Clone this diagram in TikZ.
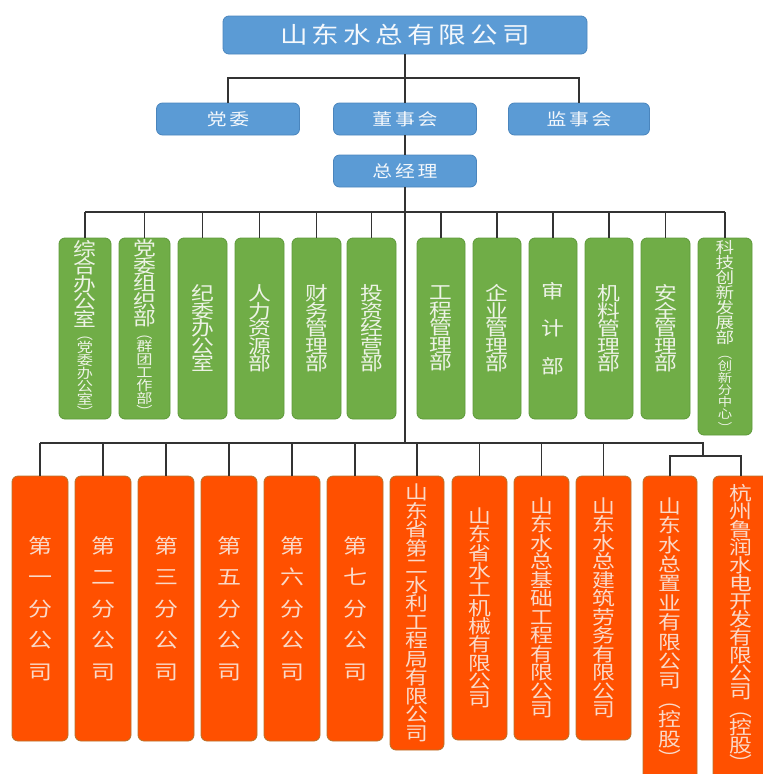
\documentclass[tikz,border=0pt]{standalone}
\usepackage{fontspec}
\setmainfont[FakeStretch=1.2]{Noto Sans CJK SC}
\usetikzlibrary{
  positioning
}
\definecolor{bluefill}{HTML}{5B9BD5}
\definecolor{blueline}{HTML}{4A85BD}
\definecolor{bluetext}{HTML}{F4F8FC}
\definecolor{greenfill}{HTML}{70AD47}
\definecolor{greenline}{HTML}{5E9A3A}
\definecolor{greentext}{HTML}{EDF3E6}
\definecolor{orangefill}{HTML}{FF5000}
\definecolor{orangeline}{HTML}{B5742E}
\definecolor{orangetext}{HTML}{FAD9C8}
\definecolor{linecol}{HTML}{333333}
\newcommand\sm[1]{{\fontsize{13.5}{13.5}\selectfont#1}}
\newcommand\xs[1]{{\fontsize{12}{12}\selectfont#1}}
\setlength{\lineskiplimit}{-100pt}

\begin{document}
\begin{tikzpicture}[x=1pt, y=-1pt,
    box/.style = {rectangle, rounded corners=6pt, inner sep=0pt, outer sep=0pt, line width=0.8pt},
    head/.style = {box, fill=bluefill, draw=blueline, text=bluetext,
      minimum width=364pt, minimum height=38pt,
      font=\fontsize{23}{26}\selectfont\addfontfeature{LetterSpace=18}},
    bbox/.style = {box, fill=bluefill, draw=blueline, text=bluetext,
      minimum width=143pt, minimum height=32pt,
      font=\fontsize{16.5}{18}\selectfont\addfontfeature{LetterSpace=17}},
    gbox/.style = {box, fill=greenfill, draw=greenline, text=greentext,
      minimum width=49pt, minimum height=181pt, align=center,
      font=\fontsize{19}{17.5}\selectfont},
    obox/.style = {box, fill=orangefill, draw=orangeline, text=orangetext,
      minimum width=55pt, minimum height=264pt, align=center,
      font=\fontsize{19}{18.5}\selectfont},
    link/.style = {draw=linecol, line width=1.2pt}]

    \useasboundingbox (0,0) rectangle (763,774);
    \clip (0,0) rectangle (763,774);

    % head office and boards
    \node[head] (top) at (405,35) {山东水总有限公司};
    \node[bbox, below = 49pt of top] (dsh) {董事会};
    \node[bbox, left = 34pt of dsh] (dw) {党委};
    \node[bbox, right = 32pt of dsh, minimum width=141pt] (jsh) {监事会};
    \node[bbox, below = 20pt of dsh] (zjl) {总经理};

    % departments
    \node[gbox, minimum width=52pt, anchor=north west] (g1) at (59,238)
      {综\\合\\办\\公\\室\\[-4.5pt]\sm{︵}\\[-4.5pt]\sm{党}\\[-4.5pt]\sm{委}\\[-4.5pt]\sm{办}\\[-4.5pt]\sm{公}\\[-4.5pt]\sm{室}\\[-4.5pt]\sm{︶}};
    \node[gbox, minimum width=51pt, right = 8pt of g1.north east, anchor=north west] (g2)
      {党\\委\\组\\织\\部\\[-4.5pt]\sm{︵}\\[-4.5pt]\sm{群}\\[-4.5pt]\sm{团}\\[-4.5pt]\sm{工}\\[-4.5pt]\sm{作}\\[-4.5pt]\sm{部}\\[-4.5pt]\sm{︶}};
    \node[gbox, right = 8pt of g2.north east, anchor=north west] (g3) {纪\\委\\办\\公\\室};
    \node[gbox, right = 8pt of g3.north east, anchor=north west] (g4) {人\\力\\资\\源\\部};
    \node[gbox, right = 8pt of g4.north east, anchor=north west] (g5) {财\\务\\管\\理\\部};
    \node[gbox, right = 6pt of g5.north east, anchor=north west] (g6) {投\\资\\经\\营\\部};
    \node[gbox, minimum width=48pt, right = 21pt of g6.north east, anchor=north west] (g7) {工\\程\\管\\理\\部};
    \node[gbox, minimum width=48pt, right = 8pt of g7.north east, anchor=north west] (g8) {企\\业\\管\\理\\部};
    \node[gbox, minimum width=48pt, right = 8pt of g8.north east, anchor=north west] (g9) {审\\[20pt]计\\[20pt]部};
    \node[gbox, minimum width=48pt, right = 8pt of g9.north east, anchor=north west] (g10) {机\\料\\管\\理\\部};
    \node[gbox, right = 8pt of g10.north east, anchor=north west] (g11) {安\\全\\管\\理\\部};
    \node[gbox, minimum width=54pt, minimum height=197pt, font=\fontsize{15.5}{15}\selectfont,
      right = 8pt of g11.north east, anchor=north west] (g12)
      {科\\技\\创\\新\\发\\展\\部\\[0.5pt]\xs{︵}\\[-3pt]\xs{创}\\[-3pt]\xs{新}\\[-3pt]\xs{分}\\[-3pt]\xs{中}\\[-3pt]\xs{心}\\[-1pt]\xs{︶}};

    % branches and subsidiaries
    \node[obox, minimum width=56pt, minimum height=265pt, font=\fontsize{20}{31.5}\selectfont,
      anchor=north west] (o1) at (12,476) {第\\一\\分\\公\\司};
    \node[obox, minimum width=56pt, minimum height=265pt, font=\fontsize{20}{31.5}\selectfont,
      right = 7pt of o1.north east, anchor=north west] (o2) {第\\二\\分\\公\\司};
    \node[obox, minimum width=56pt, minimum height=265pt, font=\fontsize{20}{31.5}\selectfont,
      right = 7pt of o2.north east, anchor=north west] (o3) {第\\三\\分\\公\\司};
    \node[obox, minimum width=56pt, minimum height=265pt, font=\fontsize{20}{31.5}\selectfont,
      right = 7pt of o3.north east, anchor=north west] (o4) {第\\五\\分\\公\\司};
    \node[obox, minimum width=56pt, minimum height=265pt, font=\fontsize{20}{31.5}\selectfont,
      right = 7pt of o4.north east, anchor=north west] (o5) {第\\六\\分\\公\\司};
    \node[obox, minimum width=56pt, minimum height=265pt, font=\fontsize{20}{31.5}\selectfont,
      right = 7pt of o5.north east, anchor=north west] (o6) {第\\七\\分\\公\\司};
    \node[obox, minimum width=54pt, minimum height=274pt,
      right = 7pt of o6.north east, anchor=north west] (o7)
      {山\\东\\省\\第\\二\\水\\利\\工\\程\\局\\有\\限\\公\\司};
    \node[obox, font=\fontsize{19}{18.3}\selectfont,
      right = 8pt of o7.north east, anchor=north west] (o8)
      {山\\东\\省\\水\\工\\机\\械\\有\\限\\公\\司};
    \node[obox, right = 7pt of o8.north east, anchor=north west] (o9)
      {山\\东\\水\\总\\基\\础\\工\\程\\有\\限\\公\\司};
    \node[obox, right = 7pt of o9.north east, anchor=north west] (o10)
      {山\\东\\水\\总\\建\\筑\\劳\\务\\有\\限\\公\\司};
    \node[obox, minimum width=54pt, minimum height=311pt, font=\fontsize{19}{19.4}\selectfont,
      right = 12pt of o10.north east, anchor=north west] (o11)
      {山\\东\\水\\总\\置\\业\\有\\限\\公\\司\\︵\\控\\股\\︶};
    \node[obox, minimum width=56pt, minimum height=303pt, font=\fontsize{19}{18}\selectfont,
      right = 16pt of o11.north east, anchor=north west] (o12)
      {杭\\州\\鲁\\润\\水\\电\\开\\发\\有\\限\\公\\司\\︵\\控\\股\\︶};

    % connectors
    \coordinate[below = 24pt of top.south] (b1);
    \coordinate[below = 25pt of zjl.south] (b2);
    \coordinate[below = 256pt of zjl.south] (b3);
    \coordinate (b4) at (703,443);
    \coordinate (b5) at (703,456);

    \draw[link] (top) -- (dsh);
    \draw[link] (dw.north) |- (b1) -| (jsh.north);
    \draw[link] (dsh) -- (zjl);
    \draw[link] (zjl) -- (b3);
    \draw[link] (g1.north |- b2) -- (g12.north |- b2);
    \foreach \i in {1,...,12}
      \draw[link] (g\i.north |- b2) -- (g\i.north);
    \draw[link] (o1.north |- b3) -- (b4) -- (b5);
    \foreach \i in {1,...,10}
      \draw[link] (o\i.north |- b3) -- (o\i.north);
    \draw[link] (o11.north) |- (b5) -| (o12.north);
  \end{tikzpicture}
\end{document}
